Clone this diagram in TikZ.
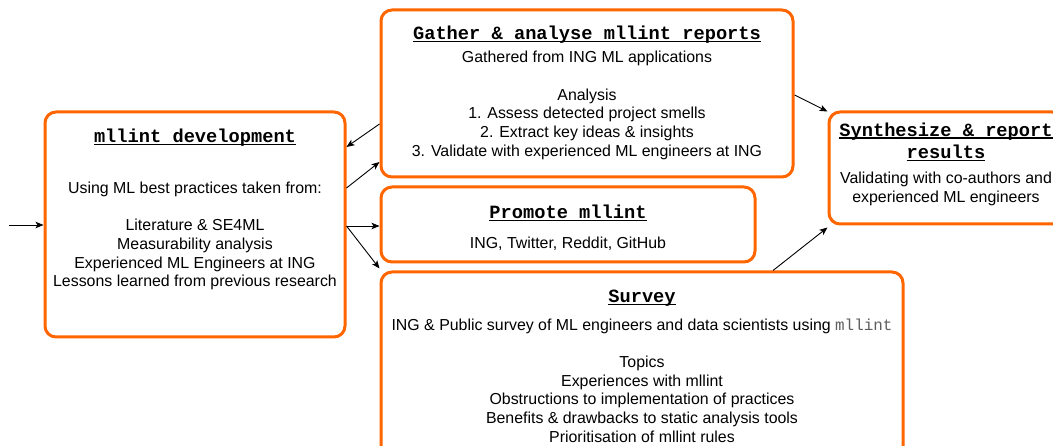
\documentclass[tikz,border=0pt]{standalone}
\usepackage{fontspec}
\setmainfont{Liberation Sans}
\setmonofont{Liberation Mono}
\usetikzlibrary{arrows.meta,calc}
\definecolor{boxorange}{RGB}{255,102,0}
\definecolor{codegray}{RGB}{95,95,95}
\newcommand{\hdline}[1]{\setbox0\hbox{#1}\rlap{\rule[-2.6pt]{\wd0}{1.4pt}}\box0}
\newcommand{\hd}[1]{{\fontsize{18.7}{22.4}\selectfont\ttfamily\bfseries\hdline{#1}}}
\begin{document}
\begin{tikzpicture}[x=1pt,y=-1pt,
  box/.style={draw=boxorange,line width=3pt,rounded corners=11pt,rectangle,inner sep=0pt},
  body/.style={font=\fontsize{15.9}{18.7}\selectfont,align=center,inner sep=0pt,text=black},
  head/.style={align=center,inner sep=0pt},
  arr/.style={line width=0.9pt,-{Stealth[length=8pt,width=6.5pt,inset=2pt]}}]
\clip (0,0) rectangle (1053,446);
\fill[white] (0,0) rectangle (1053,446);
% boxes
\node[box,minimum width=300pt,minimum height=225pt] (dev) at (195,224.5) {};
\node[box,minimum width=412pt,minimum height=167pt] (gather) at (587,93.5) {};
\node[box,minimum width=374pt,minimum height=75pt] (promote) at (568,224.5) {};
\node[box,minimum width=522pt,minimum height=190pt] (survey) at (642,367) {};
\node[box,minimum width=234pt,minimum height=112pt] (synth) at (946,168) {};
% texts
\node[head] (devh) at (195,137.5) {\hd{mllint development}};
\node[body] (devb) at (195,236) {Using ML best practices taken from:\\[18.7pt]
  Literature \& SE4ML\\ Measurability analysis\\ Experienced ML Engineers at ING\\ Lessons learned from previous research};
\node[head] (gathh) at (587,35) {\hd{Gather \& analyse mllint reports}};
\node[body] (gathb) at (587,105.5) {Gathered from ING ML applications\\[18.7pt]
  Analysis\\ 1. Assess detected project smells\\ 2. Extract key ideas \& insights\\ 3. Validate with experienced ML engineers at ING};
\node[head] (promh) at (568,213) {\hd{Promote mllint}};
\node[body] (promb) at (568,244) {ING, Twitter, Reddit, GitHub};
\node[head] (survh) at (642,298) {\hd{Survey}};
\node[body] (survb) at (642,380.5) {ING \& Public survey of ML engineers and data scientists using {\ttfamily\color{codegray}mllint}\\[18.7pt]
  Topics\\ Experiences with mllint\\ Obstructions to implementation of practices\\ Benefits \& drawbacks to static analysis tools\\ Prioritisation of mllint rules};
\node[head] (synh) at (946,142) {\hd{Synthesize \& report}\\[4pt]\hd{results}};
\node[body] (synb) at (946,189) {Validating with co-authors and\\ experienced ML engineers};
% connectors
\coordinate (start) at (9,225);
\draw[arr] (start) -- (start -| dev.west);
\draw[arr] ($(gather.west)+(0,30.5)$) -- ($(dev.east)+(0,-77.5)$);
\draw[arr] ($(dev.east)+(0,-36.5)$) -- ($(gather.west)+(0,68.5)$);
\draw[arr] ($(dev.east)+(0,1.5)$) -- ($(promote.west)+(0,1.5)$);
\draw[arr] ($(dev.east)+(0,1.5)$) -- ($(survey.north west)+(0,-2)$);
\draw[arr] ($(gather.east)+(0,1.5)$) -- ($(synth.north west)+(0,1)$);
\draw[arr] ($(survey.north)+(131,0)$) -- ($(synth.south west)+(0,2)$);
\end{tikzpicture}
\end{document}
